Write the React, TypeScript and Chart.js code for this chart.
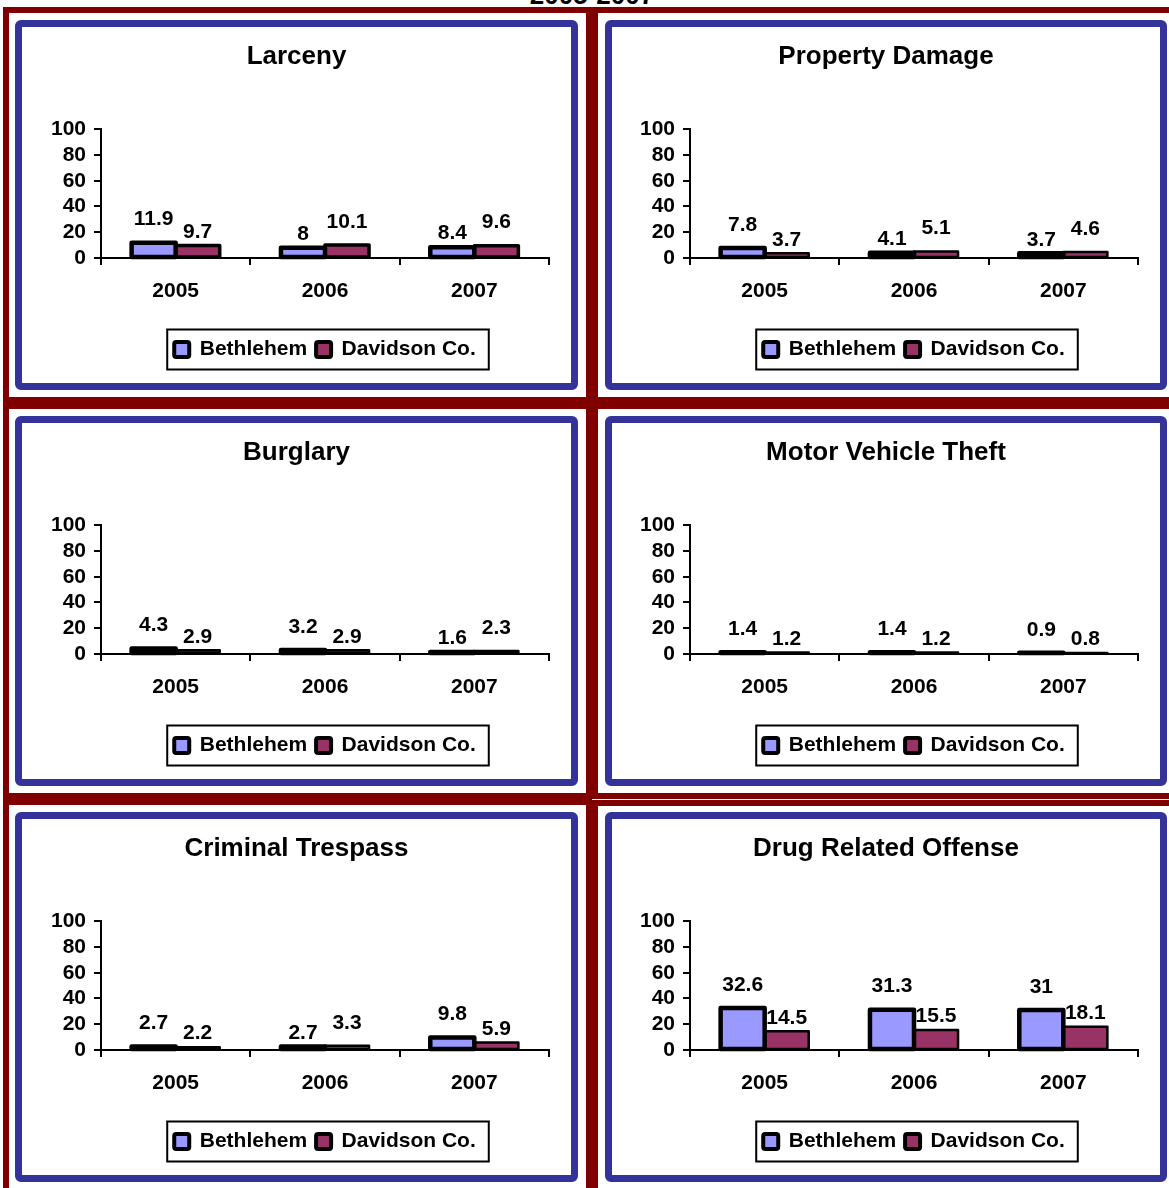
import React, { useEffect, useRef } from 'react';
import { Chart, registerables } from 'chart.js';

Chart.register(...registerables);

const FONT = '"Liberation Sans", Arial, Helvetica, sans-serif';

// ---- data ----
const years = ['2005', '2006', '2007'];
const seriesNames = ['Bethlehem', 'Davidson Co.'];

const larcenyBethlehem = [11.9, 8, 8.4];
const larcenyDavidson = [9.7, 10.1, 9.6];

const propertyBethlehem = [7.8, 4.1, 3.7];
const propertyDavidson = [3.7, 5.1, 4.6];

const burglaryBethlehem = [4.3, 3.2, 1.6];
const burglaryDavidson = [2.9, 2.9, 2.3];

const motorBethlehem = [1.4, 1.4, 0.9];
const motorDavidson = [1.2, 1.2, 0.8];

const trespassBethlehem = [2.7, 2.7, 9.8];
const trespassDavidson = [2.2, 3.3, 5.9];

const drugBethlehem = [32.6, 31.3, 31];
const drugDavidson = [14.5, 15.5, 18.1];

const yMin = 0;
const yMax = 100;
const yStep = 20;

const pageTitle = '2005-2007';

// ---- styles ----
const BETH_FILL = '#9999FF';
const DAV_FILL = '#993366';
const MAROON = '#800000';
const BLUE = '#333399';

type PanelDef = {
  title: string;
  beth: number[];
  dav: number[];
  col: number;
  row: number;
  davBorder: number;
};

const panels: PanelDef[] = [
  { title: 'Larceny', beth: larcenyBethlehem, dav: larcenyDavidson, col: 0, row: 0, davBorder: 3.5 },
  { title: 'Property Damage', beth: propertyBethlehem, dav: propertyDavidson, col: 1, row: 0, davBorder: 2.5 },
  { title: 'Burglary', beth: burglaryBethlehem, dav: burglaryDavidson, col: 0, row: 1, davBorder: 2.5 },
  { title: 'Motor Vehicle Theft', beth: motorBethlehem, dav: motorDavidson, col: 1, row: 1, davBorder: 2.5 },
  { title: 'Criminal Trespass', beth: trespassBethlehem, dav: trespassDavidson, col: 0, row: 2, davBorder: 2.5 },
  { title: 'Drug Related Offense', beth: drugBethlehem, dav: drugDavidson, col: 1, row: 2, davBorder: 2.5 },
];

const cellX = [3, 592];
const cellW = [589, 587];
const cellY = [7, 403, 799];
const cellH = 396;

const blueX = [15, 605];
const blueW = [563, 562];
const blueY = [20, 416, 812];
const blueH = 370;
const BLUE_BORDER = 7;

const outlinePlugin = {
  id: 'barOutline',
  afterDatasetsDraw(chart: any, _args: any, opts: any) {
    const ctx = chart.ctx as CanvasRenderingContext2D;
    const widths: number[] = opts.widths || [4, 2.5];
    ctx.save();
    ctx.strokeStyle = '#000';
    ctx.lineJoin = 'round';
    for (let d = chart.data.datasets.length - 1; d >= 0; d--) {
      const meta = chart.getDatasetMeta(d);
      ctx.lineWidth = widths[d];
      meta.data.forEach((el: any) => {
        const p = el.getProps(['x', 'y', 'base', 'width'], true);
        ctx.strokeRect(p.x - p.width / 2, p.y, p.width, p.base - p.y);
      });
    }
    ctx.fillStyle = '#000';
    ctx.font = `bold 21px ${FONT}`;
    ctx.textAlign = 'center';
    ctx.textBaseline = 'middle';
    const ds = chart.data.datasets;
    for (let j = 0; j < chart.data.labels.length; j++) {
      const a = ds[0].data[j] as number;
      const b = ds[1].data[j] as number;
      for (let d = 0; d < 2; d++) {
        const el = chart.getDatasetMeta(d).data[j];
        const v = ds[d].data[j];
        const taller = d === 0 ? a >= b : b > a;
        const off = taller ? 23 : 13.5;
        ctx.fillText(String(v), el.x, el.y - off);
      }
    }
    ctx.restore();
  },
  afterDraw(chart: any) {
    const lg = chart.legend;
    if (!lg || !lg.legendHitBoxes || !lg.legendHitBoxes.length) return;
    const ctx = chart.ctx as CanvasRenderingContext2D;
    const hb = lg.legendHitBoxes;
    const first = hb[0];
    const last = hb[hb.length - 1];
    const cy = first.top + first.height / 2;
    const left = first.left - 7;
    const right = last.left + last.width + 13;
    ctx.save();
    ctx.strokeStyle = '#000';
    ctx.lineWidth = 2;
    ctx.strokeRect(left, cy - 20, right - left, 40);
    ctx.restore();
  },
};

function PanelChart({ def, width, height }: { def: PanelDef; width: number; height: number }) {
  const ref = useRef<HTMLCanvasElement | null>(null);
  useEffect(() => {
    if (!ref.current) return;
    const defaultGen = (Chart.defaults.plugins.legend.labels as any).generateLabels;
    const chart = new Chart(ref.current, {
      type: 'bar',
      data: {
        labels: years,
        datasets: [
          {
            label: seriesNames[0],
            data: def.beth,
            backgroundColor: BETH_FILL,
            borderWidth: 0,
            categoryPercentage: 0.59,
            barPercentage: 1,
          },
          {
            label: seriesNames[1],
            data: def.dav,
            backgroundColor: DAV_FILL,
            borderWidth: 0,
            categoryPercentage: 0.59,
            barPercentage: 1,
          },
        ],
      },
      options: {
        animation: false,
        responsive: false,
        maintainAspectRatio: false,
        events: [],
        layout: { padding: { left: 0, right: 0, top: 0, bottom: 13 } },
        plugins: {
          title: {
            display: true,
            text: def.title,
            color: '#000',
            font: { family: FONT, size: 26, weight: 'bold' },
            padding: { top: 14, bottom: 57 },
          },
          legend: {
            display: true,
            position: 'bottom',
            fullSize: false,
            labels: {
              color: '#000',
              font: { family: FONT, size: 21, weight: 'bold' },
              boxWidth: 15,
              boxHeight: 15,
              padding: 9,
              generateLabels: (c: any) =>
                defaultGen(c).map((it: any) => ({ ...it, strokeStyle: '#000', lineWidth: 4, borderRadius: 2 })),
            },
          },
          tooltip: { enabled: false },
          barOutline: { widths: [4.5, def.davBorder] },
        } as any,
        scales: {
          x: {
            grid: { drawOnChartArea: false, color: '#000', lineWidth: 2, tickLength: 7, offset: true },
            border: { color: '#000', width: 2 },
            ticks: { color: '#000', font: { family: FONT, size: 21, weight: 'bold' }, padding: 14, maxRotation: 0, autoSkip: false },
            afterFit: (s: any) => {
              s.height = 72;
            },
          },
          y: {
            min: yMin,
            max: yMax,
            ticks: {
              stepSize: yStep,
              color: '#000',
              font: { family: FONT, size: 21, weight: 'bold', lineHeight: 1 },
              padding: 8,
              autoSkip: false,
            },
            grid: { drawOnChartArea: false, color: '#000', lineWidth: 2, tickLength: 7 },
            border: { color: '#000', width: 2 },
            afterFit: (s: any) => {
              s.width = def.col === 0 ? 79 : 78;
            },
          },
          rightGap: {
            type: 'linear',
            position: 'right',
            display: true,
            grid: { display: false, drawTicks: false },
            ticks: { display: false },
            border: { display: false },
            afterFit: (s: any) => {
              s.width = 22;
            },
          },
        } as any,
      },
      plugins: [outlinePlugin as any],
    });
    return () => chart.destroy();
  }, [def, width, height]);
  return (
    <canvas
      ref={ref}
      width={width}
      height={height}
      style={{ position: 'absolute', left: 0, top: 0, width, height, display: 'block' }}
    />
  );
}

export default function App() {
  return (
    <div
      style={{
        position: 'absolute',
        left: 0,
        top: 0,
        width: 1169,
        height: 1188,
        overflow: 'hidden',
        background: '#fff',
        fontFamily: FONT,
      }}
    >
      {panels.map((p) => {
        const cy = p.row === 2 && p.col === 1 ? 800 : cellY[p.row];
        return (
          <div
            key={'cell' + p.title}
            style={{
              position: 'absolute',
              left: cellX[p.col],
              top: cy,
              width: cellW[p.col],
              height: cellH,
              border: `6px solid ${MAROON}`,
              boxSizing: 'border-box',
              background: '#fff',
            }}
          />
        );
      })}
      {panels.map((p) => {
        const w = blueW[p.col];
        return (
          <div
            key={'panel' + p.title}
            style={{
              position: 'absolute',
              left: blueX[p.col],
              top: blueY[p.row],
              width: w,
              height: blueH,
              border: `${BLUE_BORDER}px solid ${BLUE}`,
              borderRadius: 6,
              boxSizing: 'border-box',
              background: '#fff',
            }}
          >
            <PanelChart def={p} width={w - 2 * BLUE_BORDER} height={blueH - 2 * BLUE_BORDER} />
          </div>
        );
      })}
      <div
        style={{
          position: 'absolute',
          left: 0,
          top: -18,
          width: 1184,
          textAlign: 'center',
          fontSize: 26,
          lineHeight: '26px',
          fontWeight: 'bold',
          color: '#000',
          whiteSpace: 'nowrap',
        }}
      >
        {pageTitle}
      </div>
    </div>
  );
}
